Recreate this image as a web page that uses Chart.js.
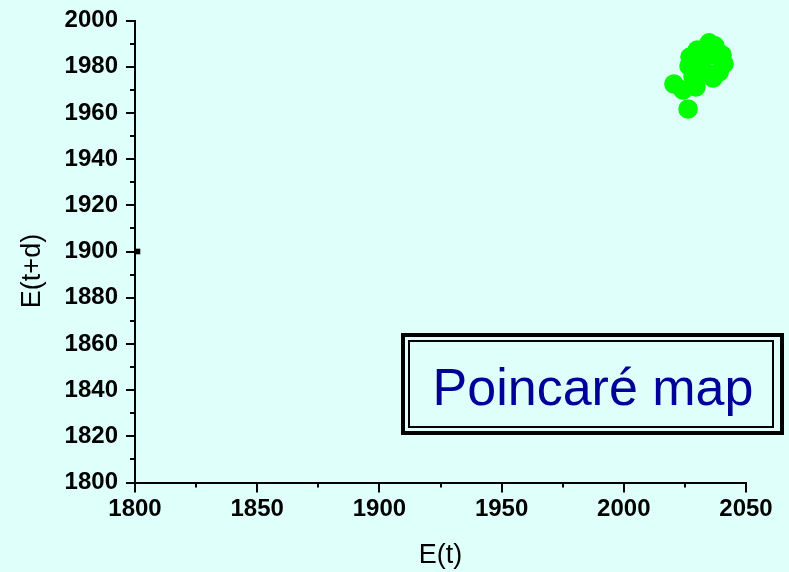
<!DOCTYPE html>
<html>
<head>
<meta charset="utf-8">
<title>Poincaré map</title>
<script src="https://cdn.jsdelivr.net/npm/chart.js@4.4.1/dist/chart.umd.min.js"></script>
<style>
  html, body { margin: 0; padding: 0; background: #dffffb; }
  #wrap { width: 789px; height: 572px; position: relative; }
</style>
</head>
<body>
<div id="wrap"><canvas id="poincare"></canvas></div>
<script>
// E(t) / E(t+d) pairs
var etValues = [2026.3, 2020.5, 2024.2, 2029.5, 2034.9, 2030.0, 2027.1, 2026.7, 2031.2,
                2036.1, 2040.2, 2041.0, 2039.0, 2036.5, 2033.2, 2028.3, 2037.3, 2033.2];
var etdValues = [1961.7, 1972.5, 1969.9, 1971.2, 1990.3, 1987.2, 1984.2, 1980.3, 1982.0,
                 1985.1, 1985.1, 1981.2, 1977.7, 1975.1, 1977.7, 1976.0, 1989.0, 1987.2];
// the lone black marker on the left axis
var markerX = [1801];
var markerY = [1900];

var xRange = [1800, 2050];
var yRange = [1800, 2000];
var xStep = 25, xMajor = 50;
var yStep = 10, yMajor = 20;
var xTitle = 'E(t)';
var yTitle = 'E(t+d)';
var boxLabel = 'Poincaré map';

var fontFamily = '"Liberation Sans", Arial, sans-serif';
var tickFont = { family: fontFamily, size: 24, weight: 'bold' };
var titleFont = { family: fontFamily, size: 27 };

function toPoints(xs, ys) {
  return xs.map(function (x, i) { return { x: x, y: ys[i] }; });
}

// major ticks long, minor ticks short, all pointing out of the plot
var tickMarks = {
  id: 'tickMarks',
  afterDraw: function (chart) {
    var ctx = chart.ctx;
    var xs = chart.scales.x, ys = chart.scales.y;
    var area = chart.chartArea;
    ctx.save();
    ctx.strokeStyle = '#000';
    ctx.lineWidth = 2;
    ctx.beginPath();
    xs.ticks.forEach(function (t) {
      var px = Math.round(xs.getPixelForValue(t.value));
      var len = t.value % xMajor === 0 ? 10 : 5;
      ctx.moveTo(px, area.bottom);
      ctx.lineTo(px, area.bottom + len);
    });
    ys.ticks.forEach(function (t) {
      var py = Math.round(ys.getPixelForValue(t.value));
      var len = t.value % yMajor === 0 ? 9 : 5;
      ctx.moveTo(area.left, py);
      ctx.lineTo(area.left - len, py);
    });
    ctx.stroke();

    // y title sits a little below the middle of the axis in the original
    ctx.fillStyle = '#000';
    ctx.font = titleFont.size + 'px ' + fontFamily;
    ctx.textAlign = 'center';
    ctx.textBaseline = 'middle';
    ctx.translate(33, 271);
    ctx.rotate(-Math.PI / 2);
    ctx.fillText(yTitle, 0, 0);
    ctx.restore();
  }
};

// framed label box, lower right
var labelBox = {
  id: 'labelBox',
  afterDraw: function (chart) {
    var ctx = chart.ctx;
    ctx.save();
    ctx.strokeStyle = '#000';
    ctx.lineWidth = 4;
    ctx.strokeRect(403, 335, 379, 98);
    ctx.lineWidth = 2;
    ctx.strokeRect(409, 341, 364, 86);
    ctx.fillStyle = '#000099';
    ctx.font = '52px ' + fontFamily;
    ctx.textAlign = 'center';
    ctx.textBaseline = 'alphabetic';
    ctx.fillText(boxLabel, 593, 405);
    ctx.restore();
  }
};

new Chart(document.getElementById('poincare'), {
  type: 'scatter',
  data: {
    datasets: [
      {
        label: yTitle,
        data: toPoints(etValues, etdValues),
        backgroundColor: '#00ff00',
        borderWidth: 0,
        pointRadius: 9.8,
        pointHoverRadius: 9.8
      },
      {
        label: 'marker',
        data: toPoints(markerX, markerY),
        pointStyle: 'rect',
        backgroundColor: '#000',
        borderWidth: 0,
        pointRadius: 4,
        clip: false
      }
    ]
  },
  options: {
    responsive: true,
    maintainAspectRatio: false,
    animation: false,
    events: [],
    layout: { padding: { top: 20.5, right: 43, left: 0, bottom: 0 } },
    plugins: {
      legend: { display: false },
      tooltip: { enabled: false }
    },
    scales: {
      x: {
        type: 'linear',
        min: xRange[0],
        max: xRange[1],
        afterFit: function (s) { s.height = 89.5; s.paddingLeft = 0; s.paddingRight = 0; },
        grid: { display: false, drawTicks: false },
        border: { display: true, color: '#000', width: 2 },
        ticks: {
          stepSize: xStep,
          color: '#000',
          font: tickFont,
          padding: 12,
          maxRotation: 0,
          autoSkip: false,
          callback: function (v) { return v % xMajor === 0 ? String(v) : ''; }
        },
        title: { display: true, text: xTitle, color: '#000', font: titleFont, padding: { top: 0, bottom: 0 } }
      },
      y: {
        type: 'linear',
        min: yRange[0],
        max: yRange[1],
        afterFit: function (s) { s.width = 135; s.paddingTop = 0; s.paddingBottom = 0; },
        grid: { display: false, drawTicks: false },
        border: { display: true, color: '#000', width: 2 },
        ticks: {
          stepSize: yStep,
          color: '#000',
          font: tickFont,
          padding: 17,
          autoSkip: false,
          callback: function (v) { return v % yMajor === 0 ? String(v) : ''; }
        },
        title: { display: false }
      }
    }
  },
  plugins: [tickMarks, labelBox]
});
</script>
</body>
</html>
